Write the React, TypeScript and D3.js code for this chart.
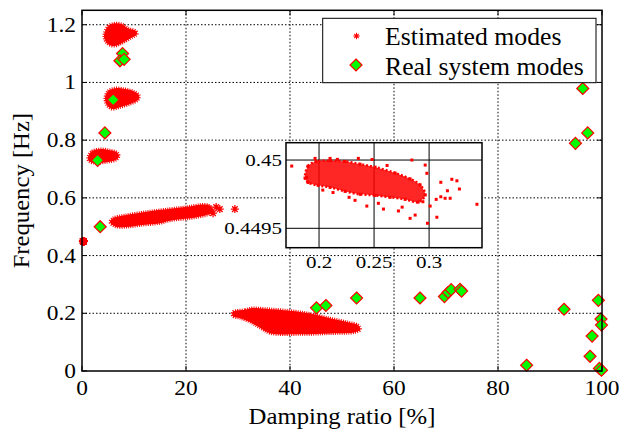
import { useEffect, useRef } from "react";
import * as d3 from "d3";

type Pt = [number, number];

const xTicks = [0, 20, 40, 60, 80, 100];
const yTicks = [0, 0.2, 0.4, 0.6, 0.8, 1, 1.2];
const insetXTicks = [0.2, 0.25, 0.3];
const insetYTicks = [0.4495, 0.45];

// estimated mode clouds, outlines (damping %, Hz)
const mode117: Pt[] = [
  [4.23, 1.160], [5.0, 1.195], [6.35, 1.205], [7.69, 1.202], [8.85, 1.188],
  [10.38, 1.178], [10.58, 1.167], [9.42, 1.154], [7.69, 1.136], [6.15, 1.126], [4.81, 1.136],
];
const mode094: Pt[] = [
  [4.42, 0.946], [5.0, 0.970], [6.35, 0.980], [8.27, 0.977], [9.81, 0.970],
  [10.96, 0.956], [10.77, 0.939], [9.23, 0.925], [7.31, 0.914], [5.77, 0.908], [4.81, 0.921],
];
const mode074: Pt[] = [
  [1.15, 0.741], [1.92, 0.762], [3.46, 0.769], [5.38, 0.765], [6.73, 0.758],
  [7.12, 0.745], [6.54, 0.731], [4.81, 0.724], [2.69, 0.720], [1.35, 0.727],
];
const mode052: Pt[] = [
  [5.38, 0.516], [5.96, 0.530], [8.27, 0.540], [12.5, 0.552], [16.9, 0.562],
  [20.2, 0.569], [22.7, 0.576], [24.0, 0.576], [25.0, 0.566], [25.2, 0.550],
  [23.7, 0.539], [20.8, 0.529], [16.9, 0.521], [15.0, 0.512], [11.2, 0.505],
  [8.65, 0.499], [6.35, 0.501],
];
const mode052Outliers: Pt[] = [
  [24.2, 0.564], [25.2, 0.547], [25.8, 0.568], [26.5, 0.561], [29.4, 0.561],
];
const mode017: Pt[] = [
  [29.0, 0.205], [31.35, 0.212], [32.7, 0.218], [35.2, 0.216], [40.0, 0.209],
  [43.85, 0.199], [47.7, 0.183], [51.2, 0.169], [53.1, 0.159], [53.5, 0.143],
  [52.5, 0.134], [47.7, 0.130], [41.9, 0.127], [36.15, 0.131], [34.2, 0.150],
  [32.3, 0.170], [30.4, 0.183], [29.0, 0.190],
];

// the 0.45 Hz mode, zoomed in the inset
const insetCore: Pt[] = [
  [0.1873, 0.449868], [0.19, 0.449955], [0.1973, 0.44999], [0.21, 0.449995], [0.2236, 0.44999],
  [0.2373, 0.44997], [0.2509, 0.449948], [0.2691, 0.449905], [0.2827, 0.449862],
  [0.2918, 0.449818], [0.2964, 0.449744], [0.29, 0.449692], [0.2782, 0.449712],
  [0.2645, 0.449727], [0.2509, 0.449741], [0.2373, 0.449749], [0.2236, 0.449771],
  [0.21, 0.4498], [0.1991, 0.449815], [0.19, 0.449836],
];
const insetScatter: Pt[] = [
  [0.1752, 0.449956], [0.1964, 0.450012], [0.21, 0.450012], [0.2357, 0.450012],
  [0.2843, 0.45], [0.2964, 0.449963], [0.2979, 0.449903], [0.3106, 0.449837],
  [0.3206, 0.449859], [0.3252, 0.449848], [0.3275, 0.449788], [0.3166, 0.449775],
  [0.3191, 0.44972], [0.3145, 0.44972], [0.3106, 0.449731], [0.3064, 0.449712],
  [0.307, 0.449581], [0.2985, 0.449537], [0.3434, 0.449676], [0.2827, 0.449573],
  [0.2873, 0.449597], [0.2721, 0.449627], [0.1888, 0.449873], [0.2034, 0.44978],
  [0.2273, 0.449727], [0.2434, 0.449663], [0.2585, 0.449641], [0.2539, 0.449683],
  [0.2943, 0.449695], [0.3009, 0.449663], [0.2167, 0.450005], [0.2482, 0.450004],
  [0.2618, 0.44996], [0.2755, 0.449655], [0.2327, 0.449705], [0.2127, 0.449762],
];

// real system modes
const realModes: Pt[] = [
  [3.5, 0.5], [3.0, 0.73], [4.4, 0.825], [6.0, 0.94], [7.8, 1.10], [7.3, 1.075], [8.1, 1.08],
  [45.1, 0.219], [46.9, 0.227], [52.8, 0.253], [65.0, 0.253], [69.7, 0.258], [70.4, 0.272],
  [71.0, 0.282], [72.7, 0.283], [73.0, 0.277], [85.5, 0.02], [92.7, 0.214], [99.3, 0.245],
  [99.8, 0.18], [99.9, 0.159], [98.1, 0.121], [97.7, 0.051], [99.5, 0.009], [99.9, 0.003],
  [96.3, 0.979], [97.25, 0.825], [94.9, 0.789],
];

const STAR = "M-4,0H4M0,-4V4M-2.8,-2.8L2.8,2.8M-2.8,2.8L2.8,-2.8";
const DIAMOND = "M0,-6L6,0L0,6L-6,0Z";

export default function App() {
  const ref = useRef<SVGSVGElement | null>(null);

  useEffect(() => {
    if (!ref.current) return;
    const width = 625;
    const height = 429;
    const m = { left: 82, right: 602, top: 10.3, bottom: 371 };

    const svg = d3.select(ref.current).attr("viewBox", `0 0 ${width} ${height}`);
    svg.selectAll("*").remove();

    const x = d3.scaleLinear().domain([0, 100]).range([m.left, m.right]);
    const y = d3.scaleLinear().domain([0, 1.25]).range([m.bottom, m.top]);

    svg.append("rect").attr("width", width).attr("height", height).attr("fill", "white");

    /* ---------------- GRID ---------------- */
    const grid = svg.append("g").attr("stroke", "#000").attr("stroke-width", 1).attr("stroke-dasharray", "1.5,2");
    xTicks.filter(t => t > 0 && t < 100).forEach(t => {
      grid.append("line").attr("x1", x(t)).attr("x2", x(t)).attr("y1", m.top).attr("y2", m.bottom);
    });
    yTicks.filter(t => t > 0).forEach(t => {
      grid.append("line").attr("x1", m.left).attr("x2", m.right).attr("y1", y(t)).attr("y2", y(t));
    });

    /* ---------------- ESTIMATED MODES ---------------- */
    const area = d3.line<Pt>().x(d => x(d[0])).y(d => y(d[1])).curve(d3.curveCatmullRomClosed);
    [mode117, mode094, mode074, mode052, mode017].forEach(c => {
      svg.append("path").attr("d", area(c)).attr("fill", "#ff0000")
        .attr("stroke", "#ff0000").attr("stroke-width", 3).attr("stroke-dasharray", "1,1.2");
    });
    svg.selectAll(".out")
      .data([...mode052Outliers, ...insetCore, ...insetScatter])
      .enter()
      .append("path")
      .attr("d", STAR)
      .attr("transform", d => `translate(${x(d[0])},${y(d[1])})`)
      .attr("stroke", "#ff0000")
      .attr("stroke-width", 1.3)
      .attr("fill", "none");
    svg.append("circle").attr("cx", x(0.25)).attr("cy", y(0.4498)).attr("r", 4).attr("fill", "#ff0000");

    /* ---------------- REAL MODES ---------------- */
    svg.selectAll(".real")
      .data(realModes)
      .enter()
      .append("path")
      .attr("d", DIAMOND)
      .attr("transform", d => `translate(${x(d[0])},${y(d[1])})`)
      .attr("fill", "#00ff00")
      .attr("stroke", "#ff0000")
      .attr("stroke-width", 1.2);

    /* ---------------- AXES ---------------- */
    svg.append("rect").attr("x", m.left).attr("y", m.top)
      .attr("width", m.right - m.left).attr("height", m.bottom - m.top)
      .attr("fill", "none").attr("stroke", "#000").attr("stroke-width", 1.5);
    const ticks = svg.append("g").attr("stroke", "#000").attr("stroke-width", 1);
    xTicks.forEach(t => {
      ticks.append("line").attr("x1", x(t)).attr("x2", x(t)).attr("y1", m.bottom).attr("y2", m.bottom - 5);
      ticks.append("line").attr("x1", x(t)).attr("x2", x(t)).attr("y1", m.top).attr("y2", m.top + 5);
    });
    yTicks.forEach(t => {
      ticks.append("line").attr("x1", m.left).attr("x2", m.left + 5).attr("y1", y(t)).attr("y2", y(t));
      ticks.append("line").attr("x1", m.right).attr("x2", m.right - 5).attr("y1", y(t)).attr("y2", y(t));
    });

    const label = (tx: number, ty: number, s: string, size: number, anchor: string, sx = 1.17, rot = 0) =>
      svg.append("text")
        .attr("transform", `translate(${tx},${ty}) rotate(${rot}) scale(${sx},1)`)
        .attr("text-anchor", anchor)
        .attr("font-size", size)
        .attr("fill", "#000")
        .text(s);

    xTicks.forEach(t => label(x(t), 395, String(t), 20, "middle"));
    yTicks.forEach(t => label(m.left - 6, y(t) + 7, String(t), 20, "end"));
    label((m.left + m.right) / 2, 424, "Damping ratio [%]", 22.5, "middle", 1.1);
    label(29, (m.top + m.bottom) / 2, "Frequency [Hz]", 23.5, "middle", 1.05, -90);

    /* ---------------- INSET ---------------- */
    const ix = d3.scaleLinear().domain([0.17, 0.348]).range([286, 482]);
    const iy = d3.scaleLinear().domain([0.449358, 0.450127]).range([247.7, 142.7]);
    const [ix0, ix1] = ix.range();
    const [iy0, iy1] = iy.range();
    svg.append("rect").attr("x", ix0).attr("y", iy1).attr("width", ix1 - ix0).attr("height", iy0 - iy1)
      .attr("fill", "white");
    insetXTicks.forEach((t, i) => {
      svg.append("line").attr("x1", ix(t)).attr("x2", ix(t)).attr("y1", iy1).attr("y2", iy0)
        .attr("stroke", i === 0 ? "#000" : "#555").attr("stroke-width", i === 0 ? 1 : 1.5);
    });
    insetYTicks.forEach(t => {
      svg.append("line").attr("x1", ix0).attr("x2", ix1).attr("y1", iy(t)).attr("y2", iy(t))
        .attr("stroke", "#000").attr("stroke-width", 1);
    });
    const inArea = d3.line<Pt>().x(d => ix(d[0])).y(d => iy(d[1])).curve(d3.curveCatmullRomClosed);
    svg.append("path").attr("d", inArea(insetCore)).attr("fill", "#ff0000").attr("fill-opacity", 0.85)
      .attr("stroke", "#ff0000").attr("stroke-width", 2.5).attr("stroke-dasharray", "2,2");
    svg.selectAll(".idot")
      .data([...insetCore, ...insetScatter])
      .enter()
      .append("rect")
      .attr("x", d => ix(d[0]) - 1.5)
      .attr("y", d => iy(d[1]) - 1.5)
      .attr("width", 3)
      .attr("height", 3)
      .attr("fill", "#ff0000");
    svg.append("rect").attr("x", ix0).attr("y", iy1).attr("width", ix1 - ix0).attr("height", iy0 - iy1)
      .attr("fill", "none").attr("stroke", "#000").attr("stroke-width", 1.5);
    insetXTicks.forEach(t => label(ix(t), 268, String(t), 17.5, "middle", 1.2));
    insetYTicks.forEach(t => label(ix0 - 4, iy(t) + 6, String(t), 17.5, "end", 1.2));

    /* ---------------- LEGEND ---------------- */
    const lg = svg.append("g");
    lg.append("rect").attr("x", 322.7).attr("y", 18.3).attr("width", 273.3).attr("height", 64.4)
      .attr("fill", "white").attr("stroke", "#000").attr("stroke-width", 1);
    lg.append("path").attr("d", STAR).attr("transform", "translate(356.5,36) scale(0.8)")
      .attr("stroke", "#ff0000").attr("stroke-width", 1.3).attr("fill", "none");
    lg.append("path").attr("d", DIAMOND).attr("transform", "translate(356,65)")
      .attr("fill", "#00ff00").attr("stroke", "#ff0000").attr("stroke-width", 1.2);
    label(385, 45, "Estimated modes", 25, "start", 1.03);
    label(385, 75, "Real system modes", 25, "start", 1.03);
  }, []);

  return (
    <svg
      ref={ref}
      width={625}
      height={429}
      fontFamily="'Liberation Serif'"
      style={{ position: "absolute", left: 0, top: 0, fontFamily: "'Liberation Serif', serif" }}
    />
  );
}
